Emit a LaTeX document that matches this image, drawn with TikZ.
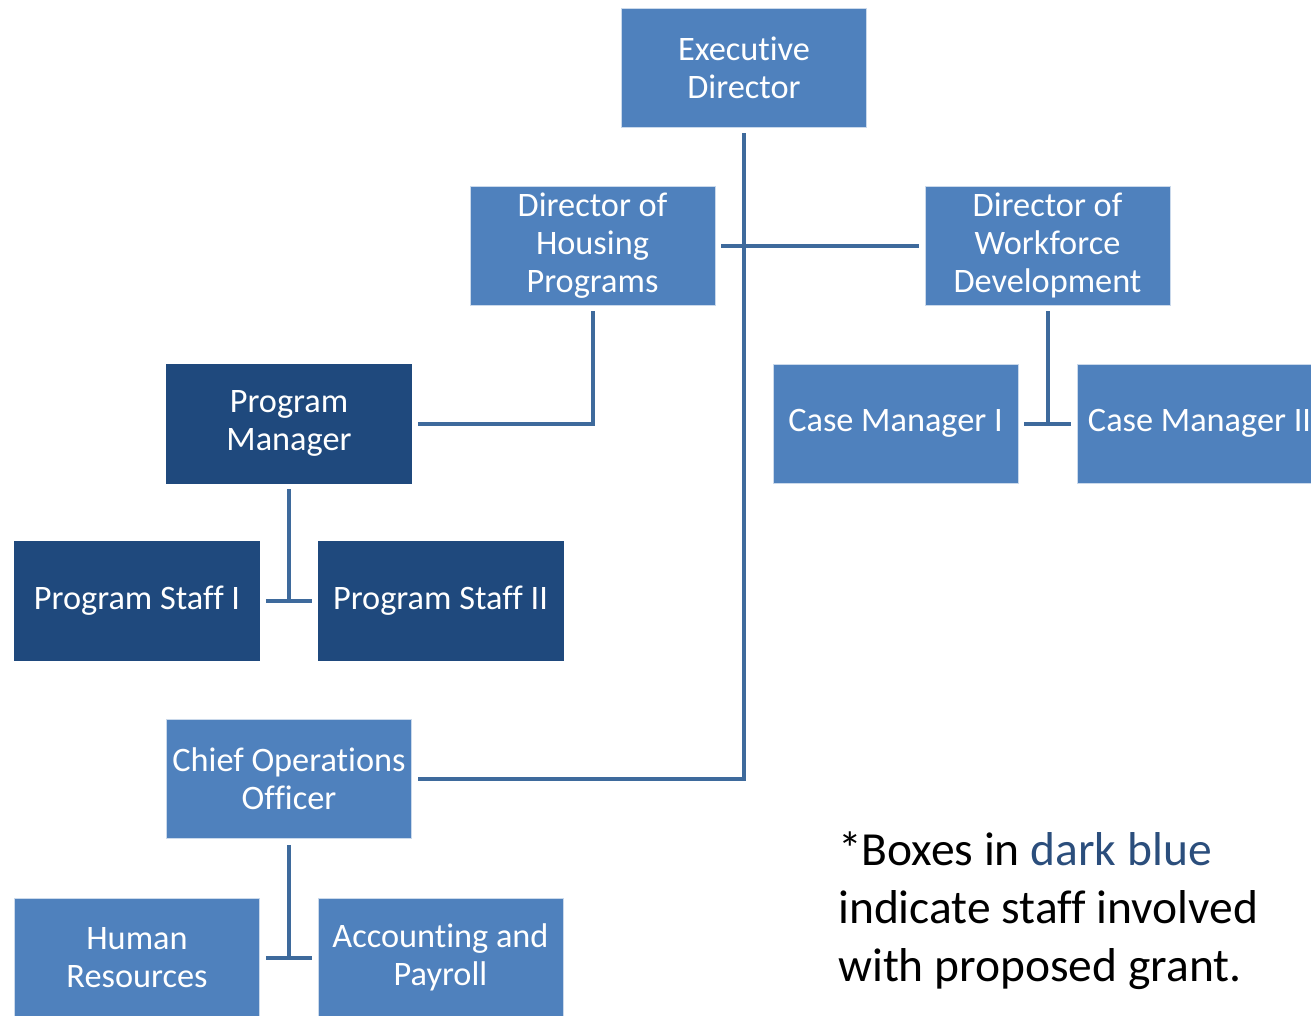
\documentclass[tikz,border=0pt]{standalone}
\usepackage{fontspec}
\setmainfont[Ligatures={NoCommon,NoContextual},Contextuals={NoAlternate}]{Carlito}
\definecolor{lightbox}{HTML}{4F81BD}
\definecolor{darkbox}{HTML}{1F497D}
\definecolor{connc}{HTML}{3E6A9C}
\definecolor{notedark}{HTML}{2B4E7C}
\begin{document}
\begin{tikzpicture}[x=1pt,y=-1pt,
  box/.style={minimum width=245pt,minimum height=119pt,inner sep=0pt,align=center,
    text=white,font=\fontsize{34.3}{38}\selectfont,draw=white!70!lightbox,line width=0.8pt},
  lbox/.style={box,fill=lightbox},
  dbox/.style={box,fill=darkbox,draw=darkbox},
  conn/.style={draw=connc,line width=4pt,shorten <=6pt,shorten >=6pt}]
\useasboundingbox (0,0) rectangle (1311,1015);
\clip (0,0) rectangle (1311,1015);
\node[lbox] (ed)  at (744,67.5)   {Executive\\Director};
\node[lbox] (dhp) at (592.5,245.5) {Director of\\Housing\\Programs};
\node[lbox] (dwd) at (1047.5,245.5) {Director of\\Workforce\\Development};
\node[dbox] (pm)  at (289,423.5)  {Program\\Manager};
\node[lbox] (cm1) at (895.5,423.5) {Case Manager I};
\node[lbox] (cm2) at (1199.5,423.5) {Case Manager II};
\node[dbox] (ps1) at (137,601) {Program Staff I};
\node[dbox] (ps2) at (440.5,601) {Program Staff II};
\node[lbox] (coo) at (289,779) {Chief Operations\\Officer};
\node[lbox] (hr)  at (137,957.5) {Human\\Resources};
\node[lbox] (ap)  at (440.5,957.5) {Accounting and\\Payroll};
\node[anchor=west,align=left,inner sep=0pt,font=\fontsize{47.5}{58}\selectfont] (note) at (838,911)
  {*Boxes in \textcolor{notedark}{dark blue}\\indicate staff involved\\with proposed grant.};
\draw[conn] (ed.south) |- (coo.east);
\draw[conn] (dhp.east) -- (dwd.west);
\draw[conn] (dhp.south) |- (pm.east);
\draw[conn,shorten >=0pt] (pm.south) -- (pm.south |- ps1.east);
\draw[conn] (ps1.east) -- (ps2.west);
\draw[conn,shorten >=0pt] (coo.south) -- (coo.south |- hr.east);
\draw[conn] (hr.east) -- (ap.west);
\draw[conn,shorten >=0pt] (dwd.south) -- (dwd.south |- cm1.east);
\draw[conn] (cm1.east) -- (cm2.west);
\end{tikzpicture}
\end{document}
